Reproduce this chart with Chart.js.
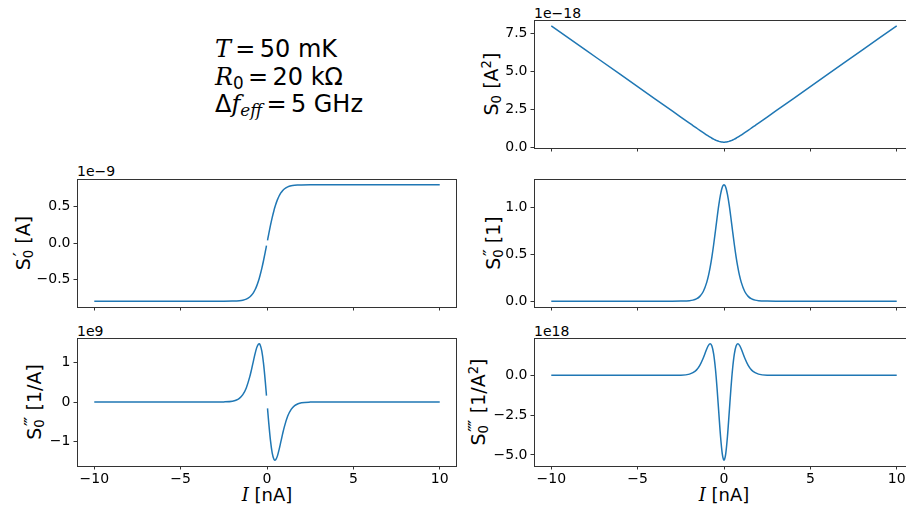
<!DOCTYPE html>
<html>
<head>
<meta charset="utf-8">
<title>Shot noise and its derivatives</title>
<script src="https://cdn.jsdelivr.net/npm/chart.js@4.4.1/dist/chart.umd.min.js"></script>
<style>
  html, body { margin: 0; padding: 0; }
  body { width: 906px; height: 510px; overflow: hidden; background: #fff; position: relative;
         font-family: "DejaVu Sans", sans-serif; color: #000; }
  canvas { position: absolute; }
  .txt { position: absolute; white-space: nowrap; }
  .ylab { font-size: 19px; line-height: 19px; transform: translate(-50%, -50%) rotate(-90deg); }
  .xlab { font-size: 18px; line-height: 18px; transform: translateX(-50%); }
  .off { font-size: 14px; line-height: 14px; }
  .blk { font-size: 24px; line-height: 24px; }
  .mi { font-family: "DejaVu Serif", serif; font-style: italic; }
  .eq { margin: 0 0.18em; }
  .lo { font-size: 0.7em; position: relative; top: 0.25em; }
  .hi { font-size: 0.7em; position: relative; top: -0.5em; }
  .st { position: relative; display: inline-block; }
  .pp { position: absolute; left: 0.1em; top: -0.2em; font-size: 0.95em; letter-spacing: -0.08em; }
</style>
</head>
<body>

<div class="txt blk" style="left:215px;top:37px"><span class="mi">T</span><span class="eq">=</span>50 mK</div>
<div class="txt blk" style="left:215px;top:65px"><span class="mi">R</span><span class="lo">0</span><span class="eq">=</span>20 kΩ</div>
<div class="txt blk" style="left:215px;top:92px">Δ<span class="mi">f</span><span class="lo mi">eff</span><span class="eq">=</span>5 GHz</div>

<div class="txt off" style="left:534px;top:6px">1e−18</div>
<div class="txt off" style="left:77px;top:164px">1e−9</div>
<div class="txt off" style="left:77px;top:324px">1e9</div>
<div class="txt off" style="left:534px;top:324px">1e18</div>

<div class="txt ylab" style="left:492px;top:84px">S<span class="lo">0</span> [A<span class="hi">2</span>]</div>
<div class="txt ylab" style="left:24px;top:243px">S<span class="st"><span class="lo">0</span><span class="pp">′</span></span> [A]</div>
<div class="txt ylab" style="left:494px;top:243px">S<span class="st"><span class="lo">0</span><span class="pp">′′</span></span> [1]</div>
<div class="txt ylab" style="left:35px;top:402px">S<span class="st" style="margin-right:0.15em"><span class="lo">0</span><span class="pp">′′′</span></span> [1/A]</div>
<div class="txt ylab" style="left:479px;top:402px">S<span class="st" style="margin-right:0.3em"><span class="lo">0</span><span class="pp">′′′′</span></span> [1/A<span class="hi">2</span>]</div>

<div class="txt xlab" style="left:267px;top:486px"><span class="mi">I</span> [nA]</div>
<div class="txt xlab" style="left:724px;top:486px"><span class="mi">I</span> [nA]</div>

<script>
// bias current, nA
const currentNA = [-10, -8, -6, -4, -3, -2.5, -2, -1.8, -1.6, -1.4, -1.2, -1, -0.9, -0.8, -0.7, -0.6, -0.5, -0.45, -0.4, -0.3, -0.2, -0.1, -0.03,
  0,
  0.03, 0.1, 0.2, 0.3, 0.4, 0.45, 0.5, 0.6, 0.7, 0.8, 0.9, 1, 1.2, 1.4, 1.6, 1.8, 2, 2.5, 3, 4, 6, 8, 10];

// S0, units 1e-18 A^2
const noiseS0 = [8.0, 6.4, 4.8, 3.2, 2.4, 2.0, 1.600, 1.441, 1.282, 1.123, 0.967, 0.816, 0.742, 0.672, 0.605, 0.543, 0.487, 0.462, 0.439, 0.399, 0.369, 0.351, 0.345,
  0.345,
  0.345, 0.351, 0.369, 0.399, 0.439, 0.462, 0.487, 0.543, 0.605, 0.672, 0.742, 0.816, 0.967, 1.123, 1.282, 1.441, 1.600, 2.0, 2.4, 3.2, 4.8, 6.4, 8.0];

// S0', units 1e-9 A (no value at I = 0)
const noiseS1 = [-0.8, -0.8, -0.8, -0.8, -0.8, -0.800, -0.799, -0.797, -0.794, -0.787, -0.772, -0.743, -0.719, -0.688, -0.646, -0.593, -0.526, -0.487, -0.444, -0.349, -0.241, -0.123, -0.037,
  null,
  0.037, 0.123, 0.241, 0.349, 0.444, 0.487, 0.526, 0.593, 0.646, 0.688, 0.719, 0.743, 0.772, 0.787, 0.794, 0.797, 0.799, 0.800, 0.8, 0.8, 0.8, 0.8, 0.8];

// S0'', dimensionless
const noiseS2 = [0, 0, 0, 0, 0, 0.001, 0.005, 0.011, 0.024, 0.051, 0.103, 0.200, 0.271, 0.362, 0.472, 0.600, 0.741, 0.814, 0.887, 1.023, 1.136, 1.211, 1.235,
  1.237,
  1.235, 1.211, 1.136, 1.023, 0.887, 0.814, 0.741, 0.600, 0.472, 0.362, 0.271, 0.200, 0.103, 0.051, 0.024, 0.011, 0.005, 0.001, 0, 0, 0, 0, 0];

// S0''', units 1e9 1/A (no value at I = 0)
const noiseS3 = [0, 0, 0, 0, 0, 0.003, 0.020, 0.044, 0.092, 0.185, 0.354, 0.630, 0.808, 1.003, 1.196, 1.359, 1.453, 1.461, 1.437, 1.275, 0.963, 0.519, 0.160,
  null,
  -0.160, -0.519, -0.963, -1.275, -1.437, -1.461, -1.453, -1.359, -1.196, -1.003, -0.808, -0.630, -0.354, -0.185, -0.092, -0.044, -0.020, -0.003, 0, 0, 0, 0, 0];

// S0'''', units 1e18 1/A^2
const noiseS4 = [0, 0, 0, 0, 0, 0.01, 0.08, 0.17, 0.33, 0.63, 1.09, 1.66, 1.89, 1.98, 1.84, 1.35, 0.45, -0.15, -0.84, -2.36, -3.84, -4.93, -5.29,
  -5.33,
  -5.29, -4.93, -3.84, -2.36, -0.84, -0.15, 0.45, 1.35, 1.84, 1.98, 1.89, 1.66, 1.09, 0.63, 0.33, 0.17, 0.08, 0.01, 0, 0, 0, 0, 0];

const xTicks = [-10, -5, 0, 5, 10];
const s0Ticks = [0, 2.5, 5, 7.5];
const s1Ticks = [-0.5, 0, 0.5];
const s2Ticks = [0, 0.5, 1];
const s3Ticks = [-1, 0, 1];
const s4Ticks = [-5, -2.5, 0];

const AXIS_W = 80;
const PAD_TOP = 12;
const AXIS_H = 30;
const LINE_BLUE = '#1f77b4';
const SPINE = '#333';

Chart.defaults.font.family = '"DejaVu Sans", sans-serif';

function fmt(v, digits) {
  const s = Math.abs(v).toFixed(digits);
  return v < 0 ? '\u2212' + s : s;
}

// matplotlib-like box around the plot area
const frame = {
  id: 'frame',
  afterDraw(chart) {
    const a = chart.chartArea;
    const ctx = chart.ctx;
    ctx.save();
    ctx.strokeStyle = SPINE;
    ctx.lineWidth = 1;
    ctx.strokeRect(a.left + 0.5, a.top + 0.5, a.right - a.left - 1, a.bottom - a.top);
    ctx.restore();
  }
};

function makePanel(cfg) {
  const w = cfg.right - cfg.left + AXIS_W;
  const h = PAD_TOP + (cfg.bottom - cfg.top) + AXIS_H;
  const canvas = document.createElement('canvas');
  canvas.width = w;
  canvas.height = h;
  canvas.style.left = (cfg.left - AXIS_W) + 'px';
  canvas.style.top = (cfg.top - PAD_TOP) + 'px';
  canvas.style.width = w + 'px';
  canvas.style.height = h + 'px';
  document.body.appendChild(canvas);

  const points = currentNA.map((x, i) => ({ x: x, y: cfg.values[i] }));
  const tickFont = { family: '"DejaVu Sans", sans-serif', size: 14 };

  new Chart(canvas, {
    type: 'line',
    data: {
      datasets: [{
        data: points,
        borderColor: LINE_BLUE,
        borderWidth: 1.5,
        pointRadius: 0,
        fill: false,
        spanGaps: false,
        cubicInterpolationMode: 'monotone'
      }]
    },
    options: {
      responsive: false,
      animation: false,
      devicePixelRatio: 1,
      events: [],
      layout: { padding: { top: PAD_TOP, right: 0, bottom: 0, left: 0 } },
      plugins: { legend: { display: false }, tooltip: { enabled: false } },
      scales: {
        x: {
          type: 'linear',
          min: -11,
          max: 11,
          afterBuildTicks: s => { s.ticks = xTicks.map(v => ({ value: v })); },
          afterFit: s => { s.height = AXIS_H; },
          border: { display: false },
          grid: { drawOnChartArea: false, drawTicks: true, tickLength: 3.5, tickWidth: 1, tickColor: SPINE },
          ticks: {
            autoSkip: false, maxRotation: 0, padding: 1, color: '#000', font: tickFont,
            callback: v => cfg.xLabels ? fmt(v, 0) : ''
          }
        },
        y: {
          type: 'linear',
          min: cfg.yMin,
          max: cfg.yMax,
          afterBuildTicks: s => { s.ticks = cfg.yTicks.map(v => ({ value: v })); },
          afterFit: s => { s.width = AXIS_W; },
          border: { display: false },
          grid: { drawOnChartArea: false, drawTicks: true, tickLength: 3.5, tickWidth: 1, tickColor: SPINE },
          ticks: { padding: 3, color: '#000', font: tickFont, callback: v => fmt(v, cfg.digits) }
        }
      }
    },
    plugins: [frame]
  });
}

makePanel({ values: noiseS0, yTicks: s0Ticks, digits: 1, yMin: -0.038, yMax: 8.383, xLabels: false, left: 534, right: 914, top: 20, bottom: 148 });
makePanel({ values: noiseS1, yTicks: s1Ticks, digits: 1, yMin: -0.88, yMax: 0.88, xLabels: false, left: 77, right: 457, top: 179, bottom: 307 });
makePanel({ values: noiseS2, yTicks: s2Ticks, digits: 1, yMin: -0.062, yMax: 1.299, xLabels: false, left: 534, right: 914, top: 179, bottom: 307 });
makePanel({ values: noiseS3, yTicks: s3Ticks, digits: 0, yMin: -1.607, yMax: 1.607, xLabels: true, left: 77, right: 457, top: 338, bottom: 466 });
makePanel({ values: noiseS4, yTicks: s4Ticks, digits: 1, yMin: -5.696, yMax: 2.349, xLabels: true, left: 534, right: 914, top: 338, bottom: 466 });
</script>
</body>
</html>
